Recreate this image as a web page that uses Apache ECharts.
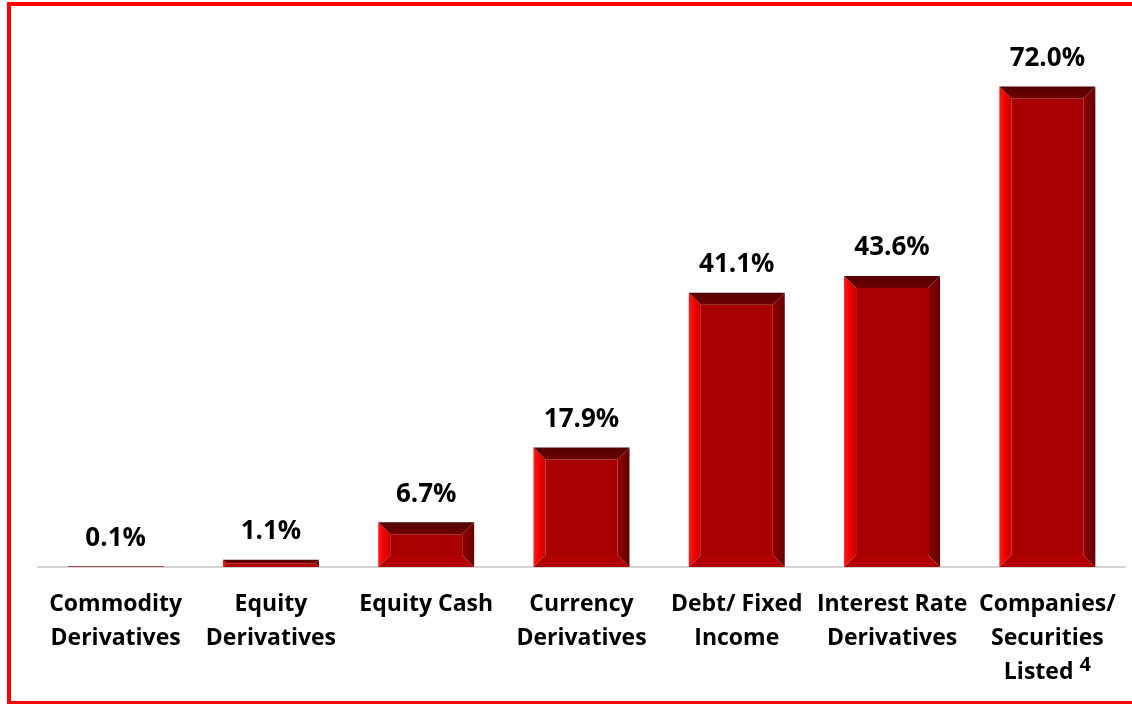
<!DOCTYPE html>
<html>
<head>
<meta charset="utf-8">
<script src="https://cdn.jsdelivr.net/npm/echarts@6/dist/echarts.min.js"></script>
<style>html,body{margin:0;padding:0;background:#fff;}#c{width:1132px;height:704px;}</style>
</head>
<body>
<div id="c"></div>
<script>
const categories = ['Commodity\nDerivatives', 'Equity\nDerivatives', 'Equity Cash', 'Currency\nDerivatives', 'Debt/ Fixed\nIncome', 'Interest Rate\nDerivatives', 'Companies/\nSecurities\nListed {sup|4}'];
const values = [0.1, 1.1, 6.7, 17.9, 41.1, 43.6, 72.0];
const valueLabels = ['0.1%', '1.1%', '6.7%', '17.9%', '41.1%', '43.6%', '72.0%'];

const FONT = '"Open Sans"';
const chart = echarts.init(document.getElementById('c'), null, {renderer: 'canvas'});

function renderItem(params, api) {
  const idx = api.value(0), v = api.value(1);
  const top = api.coord([idx, v]);
  const base = api.coord([idx, 0]);
  const bw = api.size([1, 0])[0] * 0.618;
  const x0 = top[0] - bw / 2, x1 = top[0] + bw / 2, y0 = top[1], y1 = base[1];
  const h = y1 - y0;
  const d = Math.min(12, h / 2, bw / 2);
  const children = [];
  children.push({type: 'rect', shape: {x: x0 + d, y: y0 + d, width: bw - 2 * d, height: Math.max(0, h - 2 * d)}, style: {fill: '#a80000'}});
  children.push({type: 'polygon', shape: {points: [[x0, y0], [x0 + d, y0 + d], [x0 + d, y1 - d], [x0, y1]]},
    style: {fill: new echarts.graphic.LinearGradient(0, 0, 1, 0, [{offset: 0, color: '#ff1a1a'}, {offset: 0.5, color: '#f00000'}, {offset: 1, color: '#c80000'}])}});
  children.push({type: 'polygon', shape: {points: [[x0, y0], [x1, y0], [x1 - d, y0 + d], [x0 + d, y0 + d]]},
    style: {fill: new echarts.graphic.LinearGradient(0, 0, 0, 1, [{offset: 0, color: '#520000'}, {offset: 1, color: '#700000'}])}});
  children.push({type: 'polygon', shape: {points: [[x1, y0], [x1, y1], [x1 - d, y1 - d], [x1 - d, y0 + d]]},
    style: {fill: new echarts.graphic.LinearGradient(0, 0, 1, 0, [{offset: 0, color: '#900000'}, {offset: 1, color: '#640000'}])}});
  children.push({type: 'polygon', shape: {points: [[x0, y1], [x0 + d, y1 - d], [x1 - d, y1 - d], [x1, y1]]},
    style: {fill: '#b00000'}});
  children.push({type: 'text', style: {text: valueLabels[idx], x: top[0], y: y0 - 28, align: 'center', verticalAlign: 'middle',
    font: 'bold 26px ' + FONT, fill: '#000'}});
  return {type: 'group', children: children};
}

chart.setOption({
  animation: false,
  graphic: [{type: 'rect', shape: {x: 9, y: 4, width: 1132, height: 699}, style: {fill: 'none', stroke: '#ff0000', lineWidth: 4}, z: 100}],
  grid: {left: 38, right: 7, top: 33, bottom: 137},
  xAxis: {
    type: 'category', data: categories,
    axisLine: {lineStyle: {color: '#d4d4d4', width: 2}},
    axisTick: {show: false},
    axisLabel: {
      interval: 0, margin: 20, color: '#000', fontFamily: FONT, fontWeight: 'bold', fontSize: 23, lineHeight: 34,
      rich: {sup: {fontSize: 20, fontFamily: FONT, fontWeight: 'bold', color: '#000', verticalAlign: 'top', lineHeight: 34, padding: [0, 0, 10, 0]}}
    }
  },
  yAxis: {type: 'value', min: 0, max: 80, show: false, splitLine: {show: false}},
  series: [{
    type: 'custom', renderItem: renderItem,
    data: values.map((v, i) => [i, v]),
    encode: {x: 0, y: 1}
  }]
});
</script>
</body>
</html>
